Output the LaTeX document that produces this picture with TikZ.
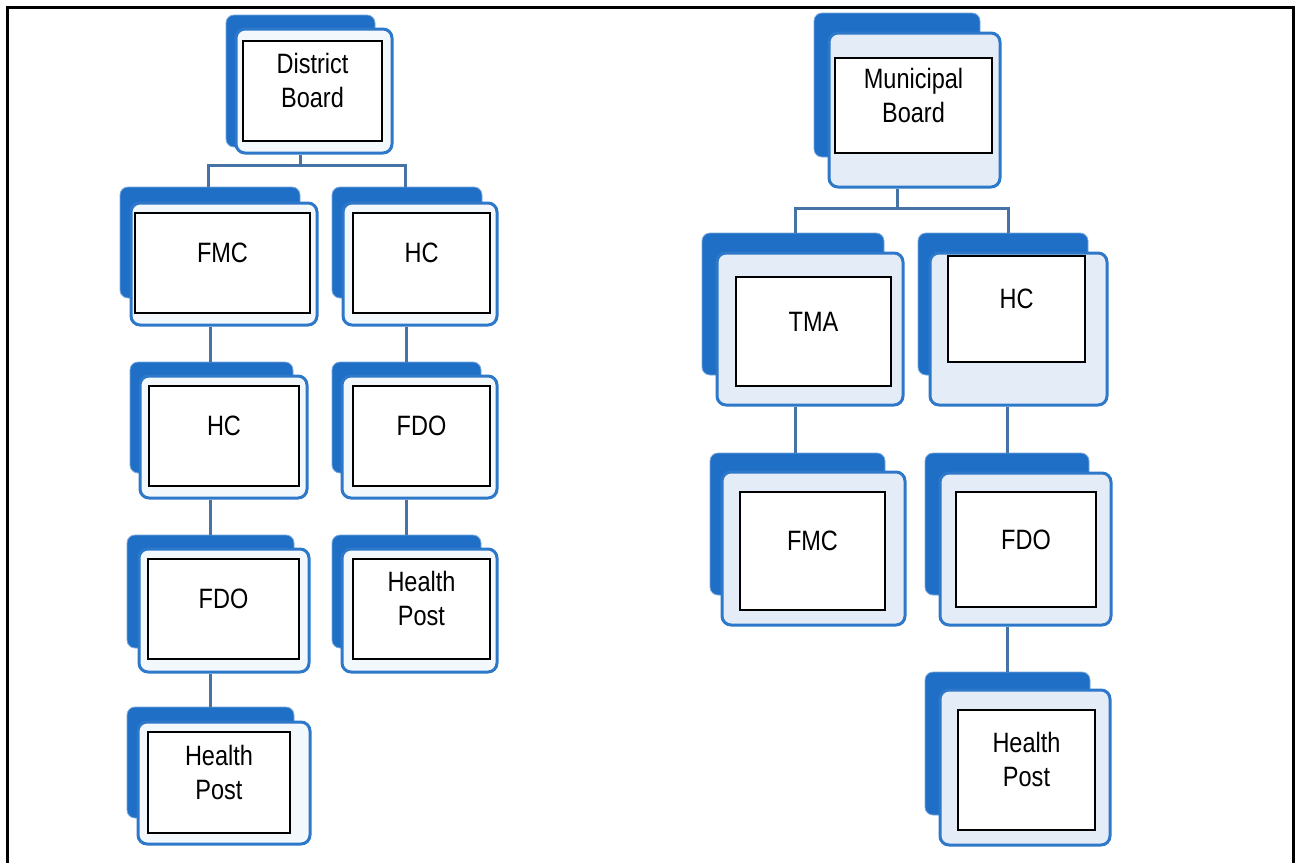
\documentclass[tikz,border=0pt]{standalone}
\usepackage{fontspec}
\setmainfont{Liberation Sans}[FakeStretch=0.84]
\usetikzlibrary{fit}
\definecolor{backblue}{HTML}{1F6FC7}
\definecolor{edgeblue}{HTML}{2E78CA}
\definecolor{lineblue}{HTML}{4672A6}
\definecolor{paleL}{HTML}{F3F8FD}
\definecolor{paleR}{HTML}{E4EDF7}
\tikzset{
  backbox/.style={fill=backblue, draw=backblue!60, line width=0.8pt, rounded corners=8pt, inner sep=0pt},
  frontbox/.style={fill=#1, draw=edgeblue, line width=3pt, rounded corners=9pt, inner sep=0pt},
  innerbox/.style={draw=black, fill=white, line width=1.6pt, inner sep=0pt, align=center,
    font=\fontsize{28}{34}\selectfont},
  conn/.style={draw=lineblue, line width=3pt},
  framebox/.style={draw=black, line width=3pt}
}
\newcommand\orgcard[9]{%
  \node[backbox, fit={(#2,#3) (#4,#5)}] (#1B) {};
  \node[frontbox=\cardfill, fit={(#6,#7) (#8,#9)}] (#1F) {};
}
\begin{document}
\begin{tikzpicture}[x=1pt,y=-1pt]
\useasboundingbox (0,0) rectangle (1301,862);
\fill[white] (0,0) rectangle (1301,862);
\draw[framebox] (7,7) rectangle (1293,880);

% ---------------- left tree ----------------
\def\cardfill{paleL}
\orgcard{db}{226}{15}{375}{147}{236}{29}{392}{153}
\node[innerbox, fit={(243,41) (382,141)}] (db) {District\\Board};
\orgcard{fmcA}{120}{187}{300}{298}{131}{203}{317}{325}
\node[innerbox, fit={(135,213) (310,313)}] (fmcA) {FMC};
\orgcard{hcA}{332}{187}{482}{298}{343}{203}{497}{325}
\node[innerbox, fit={(353,213) (490,313)}] (hcA) {HC};
\orgcard{hcB}{130}{362}{293}{473}{140}{376}{307}{498}
\node[innerbox, fit={(149,386) (299,486)}] (hcB) {HC};
\orgcard{fdoA}{332}{362}{481}{473}{342}{376}{497}{498}
\node[innerbox, fit={(353,386) (490,486)}] (fdoA) {FDO};
\orgcard{fdoB}{127}{535}{294}{648}{139}{549}{309}{672}
\node[innerbox, fit={(148,559) (299,659)}] (fdoB) {FDO};
\orgcard{hpA}{332}{535}{481}{648}{342}{549}{497}{672}
\node[innerbox, fit={(353,559) (490,659)}] (hpA) {Health\\Post};
\orgcard{hpB}{127}{707}{294}{818}{138}{722}{310}{844}
\node[innerbox, fit={(148,732) (290,833)}] (hpB) {Health\\Post};

\coordinate (L0) at (300,165);
\coordinate (L1) at (208,165);
\coordinate (L2) at (405,165);
\coordinate (L3) at (210,0);
\coordinate (L4) at (406,0);
\draw[conn] (dbF.south -| L0) -- (L0);
\draw[conn] (fmcAB.north -| L1) -- (L1) -- (L2) -- (hcAB.north -| L2);
\draw[conn] (fmcAF.south -| L3) -- (hcBB.north -| L3);
\draw[conn] (hcBF.south -| L3) -- (fdoBB.north -| L3);
\draw[conn] (fdoBF.south -| L3) -- (hpBB.north -| L3);
\draw[conn] (hcAF.south -| L4) -- (fdoAB.north -| L4);
\draw[conn] (fdoAF.south -| L4) -- (hpAB.north -| L4);

% ---------------- right tree ----------------
\def\cardfill{paleR}
\orgcard{mb}{814}{13}{980}{157}{829}{33}{1000}{187}
\node[innerbox, fit={(835,58) (992,153)}] (mb) {Municipal\\Board};
\orgcard{tma}{702}{233}{884}{375}{717}{253}{903}{405}
\node[innerbox, fit={(736,277) (891,386)}] (tma) {TMA};
\orgcard{hcC}{918}{233}{1088}{375}{930}{253}{1107}{405}
\node[innerbox, fit={(948,256) (1085,362)}] (hcC) {HC};
\orgcard{fmcB}{710}{453}{885}{595}{722}{472}{905}{625}
\node[innerbox, fit={(740,492) (885,610)}] (fmcB) {FMC};
\orgcard{fdoC}{925}{453}{1089}{595}{940}{473}{1111}{625}
\node[innerbox, fit={(956,492) (1096,607)}] (fdoC) {FDO};
\orgcard{hpC}{925}{672}{1090}{815}{940}{690}{1110}{845}
\node[innerbox, fit={(958,710) (1095,830)}] (hpC) {Health\\Post};

\coordinate (R0) at (897,208);
\coordinate (R1) at (795,208);
\coordinate (R2) at (1008,208);
\coordinate (R3) at (795,0);
\coordinate (R4) at (1007,0);
\draw[conn] (mbF.south -| R0) -- (R0);
\draw[conn] (tmaB.north -| R1) -- (R1) -- (R2) -- (hcCB.north -| R2);
\draw[conn] (tmaF.south -| R3) -- (fmcBB.north -| R3);
\draw[conn] (hcCF.south -| R4) -- (fdoCB.north -| R4);
\draw[conn] (fdoCF.south -| R4) -- (hpCB.north -| R4);
\end{tikzpicture}
\end{document}
